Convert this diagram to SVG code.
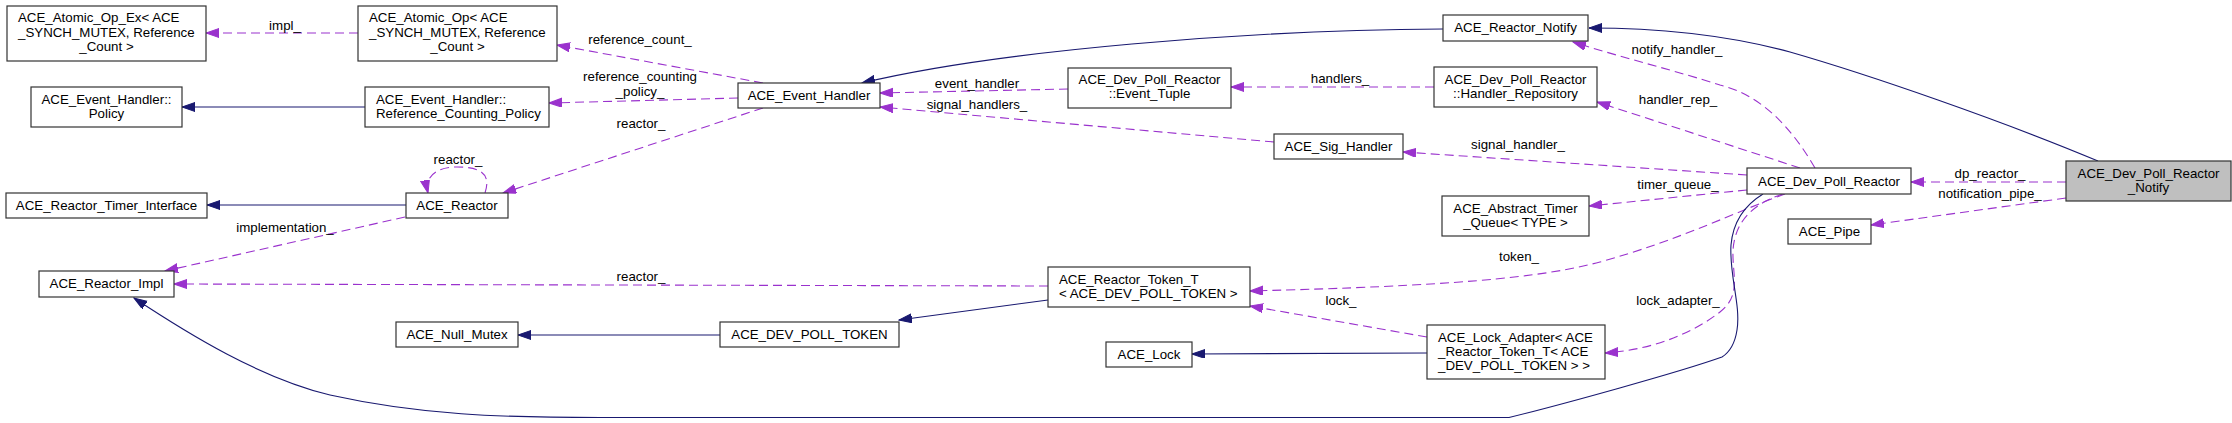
<svg xmlns="http://www.w3.org/2000/svg" width="2232" height="423" viewBox="0 0 2232 423">
<style>
text{font-family:"Liberation Sans",Arial,sans-serif;font-size:13.3px;fill:#000}
.m{text-anchor:middle}
.box{fill:#fff;stroke:#333;stroke-width:1.2}
.cur{fill:#bfbfbf;stroke:#333;stroke-width:1.2}
.u{fill:none;stroke:#9a32cd;stroke-width:1.1;stroke-dasharray:9,5;marker-end:url(#ap)}
.i{fill:none;stroke:#191970;stroke-width:1.1;marker-end:url(#ab)}
</style>
<defs>
<marker id="ap" markerUnits="userSpaceOnUse" markerWidth="14" markerHeight="10" refX="13" refY="4.5" orient="auto"><path d="M0,0 L13,4.5 L0,9 z" fill="#9a32cd" stroke="#9a32cd" stroke-width="1"/></marker>
<marker id="ab" markerUnits="userSpaceOnUse" markerWidth="14" markerHeight="10" refX="13" refY="4.5" orient="auto"><path d="M0,0 L13,4.5 L0,9 z" fill="#191970" stroke="#191970" stroke-width="1"/></marker>
</defs>
<rect width="2232" height="423" fill="#fff"/>
<g id="connectors">
<path class="u" d="M358,33 L206,33"/>
<text class="m" x="285" y="29.5">impl_</text>
<path class="u" d="M763,83 L557,45"/>
<text class="m" x="640" y="43.5">reference_count_</text>
<path class="u" d="M738,98 L549,103"/>
<text class="m" x="640" y="80.5">reference_counting</text>
<text class="m" x="640" y="95.5">_policy_</text>
<path class="u" d="M763,108 L503,193"/>
<text class="m" x="641" y="127.5">reactor_</text>
<path class="u" d="M485,193 C492,172 478,167 457,167 C437,167 424,176 428,193"/>
<text class="m" x="458" y="164">reactor_</text>
<path class="u" d="M405,217 L165,271"/>
<text class="m" x="285" y="231.5">implementation_</text>
<path class="u" d="M1048,286 L174,284"/>
<text class="m" x="641" y="280.5">reactor_</text>
<path class="u" d="M1068,89 L880,93"/>
<text class="m" x="977" y="87.5">event_handler</text>
<path class="u" d="M1274,142 L880,107"/>
<text class="m" x="977" y="108.5">signal_handlers_</text>
<path class="u" d="M1434,87 L1231,87"/>
<text class="m" x="1340" y="82.5">handlers_</text>
<path class="u" d="M1747,175 L1403,152"/>
<text class="m" x="1518" y="148.5">signal_handler_</text>
<path class="u" d="M1815,168 C1790,125 1760,95 1720,85 C1680,72 1620,57 1573,42"/>
<text class="m" x="1677" y="53.5">notify_handler_</text>
<path class="u" d="M1800,168 L1597,102"/>
<text class="m" x="1678" y="103.5">handler_rep_</text>
<path class="u" d="M1747,190 L1589,206"/>
<text class="m" x="1678" y="188.5">timer_queue_</text>
<path class="u" d="M1785,194 C1740,210 1680,240 1600,262 C1540,278 1450,286 1250,291"/>
<text class="m" x="1519" y="260.5">token_</text>
<path class="u" d="M1427,337 L1250,306"/>
<text class="m" x="1341" y="304.5">lock_</text>
<path class="u" d="M1783,194 C1755,203 1735,220 1733,250 C1732,275 1742,295 1720,312 C1690,335 1650,350 1605,353"/>
<text class="m" x="1678" y="304.5">lock_adapter_</text>
<path class="u" d="M2066,182 L1911,182"/>
<text class="m" x="1990" y="177.5">dp_reactor_</text>
<path class="u" d="M2066,198 L1871,225"/>
<text class="m" x="1990" y="197.5">notification_pipe_</text>
<path class="i" d="M365,107 L182,107"/>
<path class="i" d="M406,205 L207,205"/>
<path class="i" d="M720,335 L518,335"/>
<path class="i" d="M1048,300 L899,320"/>
<path class="i" d="M1427,353 L1192,354"/>
<path class="i" d="M1443,29 C1250,30 1000,50 862,83"/>
<path class="i" d="M2098,161 C2000,120 1870,75 1790,52 C1720,33 1650,28 1589,28"/>
<path class="i" d="M1763,194 C1745,205 1733,222 1731,245 C1729,275 1741,305 1737,330 C1735,343 1730,352 1722,357 C1680,372 1560,405 1509,417.5 L600,417.5 C500,417.5 420,415 330,395 C260,378 190,335 134,298"/>
</g>
<g id="n_atomic_op_ex"><rect class="box" x="7" y="6" width="199" height="55"/><text x="18" y="22">ACE_Atomic_Op_Ex&lt; ACE</text><text x="18" y="36.5">_SYNCH_MUTEX, Reference</text><text class="m" x="106.5" y="51">_Count &gt;</text></g>
<g id="n_atomic_op"><rect class="box" x="358" y="6" width="199" height="55"/><text x="369" y="22">ACE_Atomic_Op&lt; ACE</text><text x="369" y="36.5">_SYNCH_MUTEX, Reference</text><text class="m" x="457.5" y="51">_Count &gt;</text></g>
<g id="n_policy"><rect class="box" x="31" y="87" width="151" height="40"/><text class="m" x="106.5" y="104">ACE_Event_Handler::</text><text class="m" x="106.5" y="118">Policy</text></g>
<g id="n_ref_counting_policy"><rect class="box" x="365" y="87" width="184" height="40"/><text x="376" y="104">ACE_Event_Handler::</text><text x="376" y="118">Reference_Counting_Policy</text></g>
<g id="n_timer_interface"><rect class="box" x="6" y="193" width="201" height="25"/><text class="m" x="106.5" y="210">ACE_Reactor_Timer_Interface</text></g>
<g id="n_reactor"><rect class="box" x="406" y="193" width="102" height="25"/><text class="m" x="457" y="210">ACE_Reactor</text></g>
<g id="n_reactor_impl"><rect class="box" x="39" y="271" width="135" height="26"/><text class="m" x="106.5" y="288">ACE_Reactor_Impl</text></g>
<g id="n_null_mutex"><rect class="box" x="396" y="322" width="122" height="25"/><text class="m" x="457" y="339">ACE_Null_Mutex</text></g>
<g id="n_event_handler"><rect class="box" x="738" y="83" width="142" height="25"/><text class="m" x="809" y="100">ACE_Event_Handler</text></g>
<g id="n_dev_poll_token"><rect class="box" x="720" y="322" width="179" height="25"/><text class="m" x="809.5" y="339">ACE_DEV_POLL_TOKEN</text></g>
<g id="n_event_tuple"><rect class="box" x="1068" y="68" width="163" height="40"/><text class="m" x="1149.5" y="84">ACE_Dev_Poll_Reactor</text><text class="m" x="1149.5" y="98">::Event_Tuple</text></g>
<g id="n_reactor_token_t"><rect class="box" x="1048" y="267" width="202" height="40"/><text x="1059" y="284">ACE_Reactor_Token_T</text><text x="1059" y="298">&lt; ACE_DEV_POLL_TOKEN &gt;</text></g>
<g id="n_lock"><rect class="box" x="1106" y="342" width="86" height="25"/><text class="m" x="1149" y="359">ACE_Lock</text></g>
<g id="n_sig_handler"><rect class="box" x="1274" y="134" width="129" height="25"/><text class="m" x="1338.5" y="151">ACE_Sig_Handler</text></g>
<g id="n_reactor_notify"><rect class="box" x="1443" y="15" width="145" height="26"/><text class="m" x="1515.5" y="32">ACE_Reactor_Notify</text></g>
<g id="n_handler_repository"><rect class="box" x="1434" y="67" width="163" height="40"/><text class="m" x="1515.5" y="83.5">ACE_Dev_Poll_Reactor</text><text class="m" x="1515.5" y="97.5">::Handler_Repository</text></g>
<g id="n_abstract_timer_queue"><rect class="box" x="1442" y="196" width="147" height="40"/><text class="m" x="1515.5" y="212.5">ACE_Abstract_Timer</text><text class="m" x="1515.5" y="226.5">_Queue&lt; TYPE &gt;</text></g>
<g id="n_lock_adapter"><rect class="box" x="1427" y="325" width="178" height="54"/><text x="1438" y="341.5">ACE_Lock_Adapter&lt; ACE</text><text x="1438" y="355.5">_Reactor_Token_T&lt; ACE</text><text x="1438" y="369.5">_DEV_POLL_TOKEN &gt; &gt;</text></g>
<g id="n_dev_poll_reactor"><rect class="box" x="1747" y="168" width="164" height="26"/><text class="m" x="1829" y="185.5">ACE_Dev_Poll_Reactor</text></g>
<g id="n_pipe"><rect class="box" x="1788" y="219" width="83" height="25"/><text class="m" x="1829.5" y="236">ACE_Pipe</text></g>
<g id="n_dev_poll_reactor_notify"><rect class="cur" x="2066" y="161" width="165" height="40"/><text class="m" x="2148.5" y="178">ACE_Dev_Poll_Reactor</text><text class="m" x="2148.5" y="192">_Notify</text></g>
</svg>
